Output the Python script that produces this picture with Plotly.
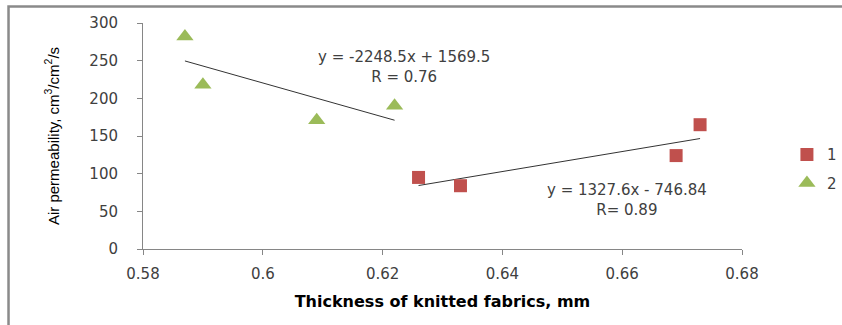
import plotly.graph_objects as go

# ---- data ----
thickness_1 = [0.626, 0.633, 0.669, 0.673]
air_perm_1 = [95, 84, 124, 165]
thickness_2 = [0.587, 0.590, 0.609, 0.622]
air_perm_2 = [282, 218, 171, 190]

# trend line coefficients (as printed on the chart)
slope_1, intercept_1 = 1327.6, -746.84
slope_2, intercept_2 = -2248.5, 1569.5
eq_text_1 = "y = 1327.6x - 746.84<br>R= 0.89"
eq_text_2 = "y = -2248.5x + 1569.5<br>R = 0.76"

x_tick_vals = [0.58, 0.60, 0.62, 0.64, 0.66, 0.68]
x_tick_text = ["0.58", "0.6", "0.62", "0.64", "0.66", "0.68"]
y_tick_vals = [0, 50, 100, 150, 200, 250, 300]

series_names = ["1", "2"]

RED = "#C0504D"
GREEN = "#9BBB59"
AXIS = "#868686"
TXT = "#404040"
FONT = "DejaVu Sans"

def trend(xs, m, b):
    xr = [min(xs), max(xs)]
    return xr, [m * v + b for v in xr]

fig = go.Figure()

tx1, ty1 = trend(thickness_1, slope_1, intercept_1)
tx2, ty2 = trend(thickness_2, slope_2, intercept_2)
fig.add_trace(go.Scatter(x=tx2, y=ty2, mode="lines", line=dict(color="#333333", width=1),
                         showlegend=False, hoverinfo="skip"))
fig.add_trace(go.Scatter(x=tx1, y=ty1, mode="lines", line=dict(color="#333333", width=1),
                         showlegend=False, hoverinfo="skip"))

fig.add_trace(go.Scatter(x=thickness_1, y=air_perm_1, mode="markers", name=series_names[0],
                         legendgroup="a",
                         marker=dict(symbol="square", size=13, color=RED,
                                     line=dict(width=0))))
fig.add_trace(go.Scatter(x=thickness_2, y=air_perm_2, mode="markers", name=series_names[1],
                         legendgroup="b",
                         marker=dict(symbol="triangle-up", size=15, color=GREEN,
                                     line=dict(width=0))))

# equation labels (in data coordinates)
fig.add_annotation(x=0.6235, y=242, xref="x", yref="y", text=eq_text_2, showarrow=False,
                   font=dict(family=FONT, size=15, color=TXT), align="center")
fig.add_annotation(x=0.6608, y=64.5, xref="x", yref="y", text=eq_text_1, showarrow=False,
                   font=dict(family=FONT, size=15, color=TXT), align="center")

# frame
fig.add_shape(type="rect", xref="paper", yref="paper",
              x0=-0.2245, x1=1.3, y0=-0.6, y1=1.073,
              line=dict(color="#8a8a8a", width=2.5), fillcolor="rgba(0,0,0,0)", layer="below")

fig.update_layout(
    width=842, height=325,
    margin=dict(l=143, r=100, t=23, b=76, pad=0, autoexpand=False),
    paper_bgcolor="white", plot_bgcolor="white",
    showlegend=True,
    legend=dict(x=1.075, y=0.49, xanchor="left", yanchor="top",
                font=dict(family=FONT, size=15, color=TXT),
                tracegroupgap=6, traceorder="grouped", bgcolor="rgba(0,0,0,0)"),
    xaxis=dict(range=[0.58, 0.68], tickvals=x_tick_vals, ticktext=x_tick_text,
               showgrid=False, zeroline=False, showline=True, linecolor=AXIS, linewidth=1,
               ticks="outside", ticklen=5, tickcolor=AXIS, ticklabelstandoff=6,
               tickfont=dict(family=FONT, size=15, color=TXT),
               title=dict(text="<b>Thickness of knitted fabrics, mm</b>", standoff=13,
                          font=dict(family=FONT, size=16, color="#000000"))),
    yaxis=dict(range=[0, 300], tickvals=y_tick_vals,
               showgrid=False, zeroline=False, showline=True, linecolor=AXIS, linewidth=1,
               ticks="outside", ticklen=5, tickcolor=AXIS, ticklabelstandoff=16,
               tickfont=dict(family=FONT, size=15, color=TXT),
               title=dict(text="Air permeability, cm<sup>3</sup>/cm<sup>2</sup>/s", standoff=26,
                          font=dict(family="Liberation Sans Narrow, Liberation Sans", size=15,
                                    color="#000000"))),
)

fig.write_html("out.html", config={"displayModeBar": False},
               post_script="document.body.style.margin='0';")
